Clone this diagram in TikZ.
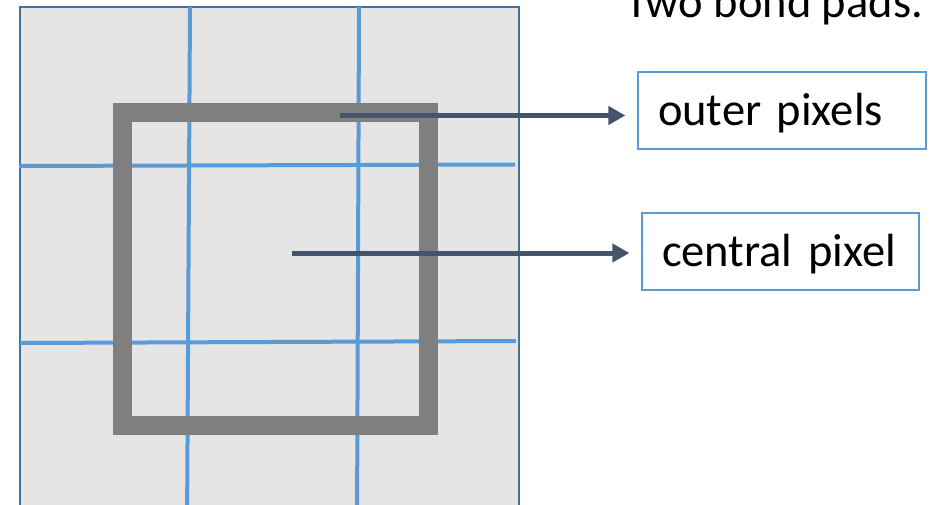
\documentclass[tikz,border=0pt]{standalone}
\usepackage{fontspec}
\setmainfont{Carlito}
\usetikzlibrary{arrows.meta}
\definecolor{cellfill}{HTML}{E5E5E5}
\definecolor{frameblue}{HTML}{41719C}
\definecolor{gridblue}{HTML}{5B9BD5}
\definecolor{squaregray}{HTML}{7F7F7F}
\definecolor{arrowdark}{HTML}{44546A}
\tikzset{
  bigtext/.style={font=\fontsize{46.5}{56}\selectfont, text=black},
  labelbox/.style={bigtext, draw=gridblue, line width=1.2pt, fill=white,
    minimum height=77pt, inner xsep=20pt, inner ysep=0pt,
    text height=29pt, text depth=0pt, align=left},
  gridline/.style={draw=gridblue, line width=4pt},
  pointer/.style={draw=arrowdark, line width=5pt,
    -{Triangle[length=17pt,width=18pt]}, shorten >=12pt},
}
\begin{document}
\begin{tikzpicture}[x=1pt,y=-1pt]
\clip (0,0) rectangle (950,504);
% pixel array
\draw[fill=cellfill, draw=frameblue, line width=2pt] (20,6.5) rectangle (519,530);
\draw[gridline] (190,7) -- (187,530);
\draw[gridline] (359,7) -- (357,530);
\draw[gridline] (19,166) -- (515,164.5);
\draw[gridline] (20,343) -- (516,341);
% gray square (bond pad)
\draw[draw=squaregray, line width=19pt] (122.5,112.5) rectangle (428,425);
% title
\node[bigtext, anchor=base west, inner sep=0pt] (title) at (625,17.3) {Two bond pads.};
% label boxes
\node[labelbox, minimum width=288pt, text width=248pt] (outer) at (782,110.5) {outer pixels};
\node[labelbox, minimum width=277pt, text width=237pt] (central) at (780.5,251.5) {central pixel};
% arrows
\coordinate (a1) at (340,115.5);
\coordinate (a2) at (292,253);
\draw[pointer] (a1) -- (a1 -| outer.west);
\draw[pointer] (a2) -- (a2 -| central.west);
\end{tikzpicture}
\end{document}
